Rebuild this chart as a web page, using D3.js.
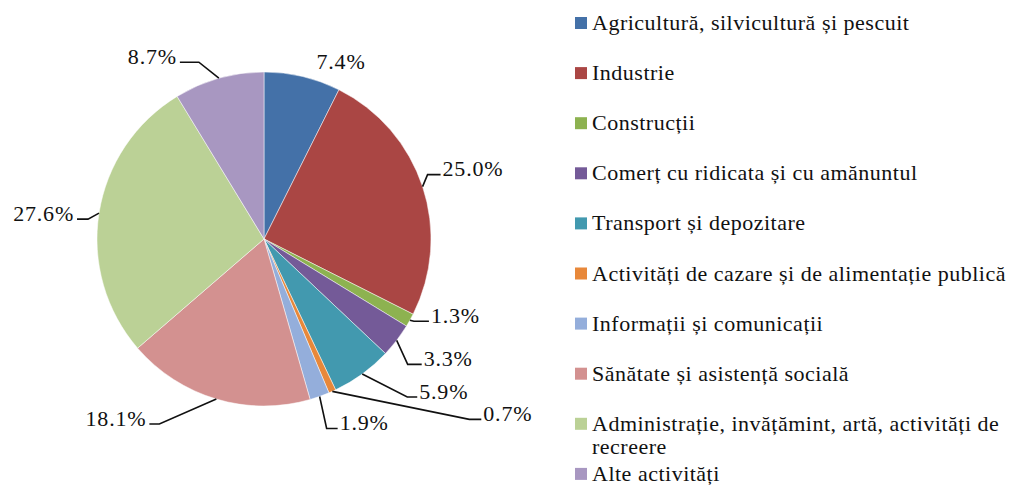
<!DOCTYPE html>
<html lang="ro">
<head>
<meta charset="UTF-8">
<title>Structura</title>
<script src="https://cdn.jsdelivr.net/npm/d3@7"></script>
<style>
  body { margin: 0; background: #fff; }
  text { font-family: "Liberation Serif", "Times New Roman", serif; fill: #111; }
</style>
</head>
<body>
<div id="figure" style="width:1010px;height:485px"></div>
<script>
// sectors (legend order = slice order, clockwise from 12 o'clock)
const sectors = [
    "Agricultură, silvicultură și pescuit",
    "Industrie",
    "Construcții",
    "Comerț cu ridicata și cu amănuntul",
    "Transport și depozitare",
    "Activități de cazare și de alimentație publică",
    "Informații și comunicații",
    "Sănătate și asistență socială",
    "Administrație, invățămint, artă, activități de recreere",
    "Alte activități"
];
const shares = [7.4, 25.0, 1.3, 3.3, 5.9, 0.7, 1.9, 18.1, 27.6, 8.7];
const colors = ["#4471A8", "#AA4644", "#8DB250", "#745A98", "#4299AF",
                "#E8883A", "#94AEDB", "#D39190", "#BBD196", "#A897C1"];

// leader line: elbow offset from the slice edge, then horizontal run h
const leaders = [
    null,
    {ex: 5, ey: -12, h: 13},
    {ex: 4, ey: 1, h: 15},
    {ex: 11, ey: 24, h: 14},
    {ex: 45, ey: 23, h: 10},
    {ex: 137, ey: 28, h: 12},
    {ex: 7, ey: 32, h: 11},
    {ex: -57, ey: 25, h: -10},
    {ex: -11, ey: 6, h: -11},
    {ex: -20, ey: -16, h: -19}
];

let w = 1010, h = 485;
let cx = 264, cy = 239, radius = 167;

let svg = d3.select("#figure").append("svg")
    .attr("width", w)
    .attr("height", h);

let pie = d3.pie().sort(null).value(d => d)(shares);
let arc = d3.arc().innerRadius(0).outerRadius(radius);

let plot = svg.append("g").attr("transform", `translate(${cx},${cy})`);

plot.selectAll("path.slice")
    .data(pie)
    .enter().append("path")
    .attr("class", "slice")
    .attr("d", arc)
    .style("fill", (d, i) => colors[i])
    .style("stroke", "#fff")
    .style("stroke-width", 0.7)
    .style("stroke-opacity", 0.7);

// edge point of each slice at its middle angle
function edge(d) {
    let a = (d.startAngle + d.endAngle) / 2;
    return [radius * Math.sin(a), -radius * Math.cos(a)];
}

let fmt = d3.format(".1f");
pie.forEach((d, i) => {
    let [x0, y0] = edge(d);
    let lbl = fmt(d.data) + "%";
    let L = leaders[i];
    if (!L) {
        plot.append("text")
            .attr("x", x0 + 14).attr("y", y0 - 8)
            .style("font-size", "22px")
            .style("letter-spacing", "0.8px")
            .text(lbl);
        return;
    }
    let x1 = x0 + L.ex, y1 = y0 + L.ey, x2 = x1 + L.h;
    plot.append("path")
        .attr("d", d3.line()([[x0, y0], [x1, y1], [x2, y1]]))
        .style("fill", "none")
        .style("stroke", "#111")
        .style("stroke-width", 1.6);
    let right = L.h > 0;
    plot.append("text")
        .attr("x", right ? x2 + 2 : x2 - 3)
        .attr("y", y1 + 1.5)
        .attr("text-anchor", right ? "start" : "end")
        .style("font-size", "22px")
        .style("letter-spacing", "0.8px")
        .text(lbl);
});

// legend
let legend = svg.append("g").attr("transform", "translate(575,0)");
let maxW = 418;
sectors.forEach((name, i) => {
    let yc = 23 + 50.1 * i;
    legend.append("rect")
        .attr("x", 0).attr("y", yc - 6)
        .attr("width", 12).attr("height", 12)
        .style("fill", colors[i]);
    let t = legend.append("text")
        .attr("x", 17).attr("y", yc + 7)
        .style("font-size", "22px")
        .style("letter-spacing", "0.5px");
    // simple word wrap
    let words = name.split(" ");
    let line = [];
    let ts = t.append("tspan").attr("x", 17);
    words.forEach(wd => {
        line.push(wd);
        ts.text(line.join(" "));
        if (ts.node().getComputedTextLength() > maxW && line.length > 1) {
            line.pop();
            ts.text(line.join(" "));
            line = [wd];
            ts = t.append("tspan").attr("x", 17).attr("dy", 23).text(wd);
        }
    });
});
</script>
</body>
</html>
